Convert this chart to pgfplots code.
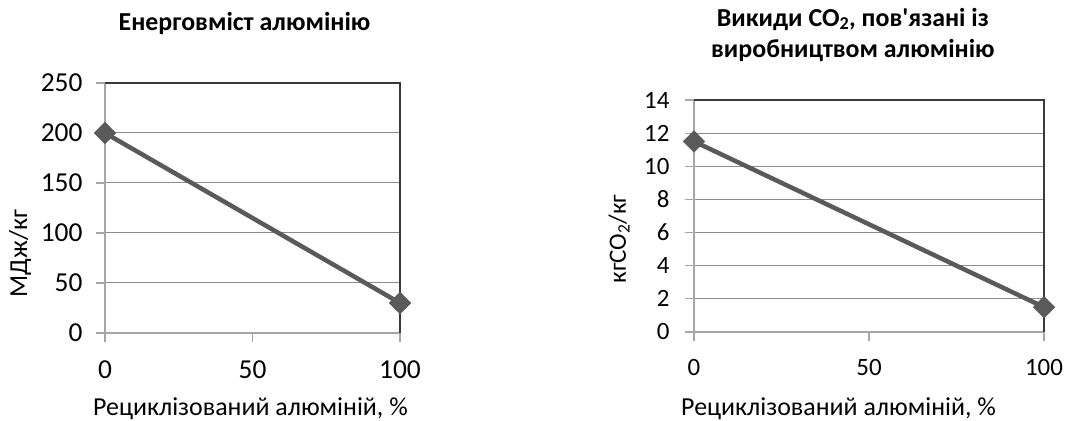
\documentclass[border=0pt]{standalone}
\usepackage{fontspec}
\setmainfont{Carlito}
\usepackage{pgfplots}
\pgfplotsset{compat=1.18}

\definecolor{linegray}{HTML}{5A5A5A}
\definecolor{gridgray}{HTML}{8C8C8C}
\definecolor{axisgray}{HTML}{A6A6A6}
\definecolor{framedark}{HTML}{3A3A3A}

\pgfplotsset{
  excelchart/.style={
    scale only axis,
    anchor=south west,
    clip=false,
    axis lines*=left,
    axis line style={axisgray, line width=1.2bp},
    tick style={axisgray, line width=1.2bp},
    tick align=outside,
    major tick length=9bp,
    ymajorgrids=true,
    grid style={gridgray, line width=1bp},
    xmin=0, xmax=100,
    xtick={0,50,100},
    ymin=0,
    /pgf/number format/assume math mode=true,
  },
  dataline/.style={
    color=linegray, line width=4.5bp,
    mark=square*, mark size=7.6bp,
    mark options={solid, rotate=45, line width=0.5bp, fill=linegray},
  },
}

\begin{document}
\begin{tikzpicture}
\useasboundingbox (0,0) rectangle (1067bp,421bp);

% ---- energy content ----
\begin{axis}[
    excelchart,
    at={(105bp,88bp)},
    width=295bp, height=250bp,
    ymax=250,
    ytick={0,50,100,150,200,250},
    ticklabel style={font=\fontsize{27.5}{31}\selectfont},
    xticklabel style={yshift=-15bp},
    yticklabel style={xshift=-10bp},
    title={Енерговміст алюмінію},
    title style={at={(axis description cs:0.473,1.216)}, anchor=center,
                 font=\bfseries\fontsize{26}{30}\selectfont},
    xlabel={Рециклізований алюміній, \%},
    xlabel style={at={(axis description cs:0.493,-0.328)}, anchor=base,
                  font=\fontsize{26}{30}\selectfont},
    ylabel={МДж/кг},
    ylabel style={at={(axis description cs:-0.288,0.318)}, anchor=center,
                  font=\fontsize{26}{30}\selectfont},
]
\draw[framedark, line width=1.3bp] (rel axis cs:0,1) -- (rel axis cs:1,1) -- (rel axis cs:1,0);
\addplot[dataline] coordinates {(0,200) (100,30)};
\end{axis}

% ---- CO2 emissions ----
\begin{axis}[
    excelchart,
    at={(694bp,89bp)},
    width=350bp, height=232bp,
    ymax=14,
    ytick={0,2,4,6,8,10,12,14},
    ticklabel style={font=\fontsize{25}{29}\selectfont},
    xticklabel style={yshift=-15bp},
    yticklabel style={xshift=-12bp},
    title={Викиди CO\textsubscript{2}, пов\textquotesingle язані із\\виробництвом алюмінію},
    title style={at={(axis description cs:0.454,1.256)}, anchor=center, align=center,
                 font=\bfseries\fontsize{26}{31}\selectfont},
    xlabel={Рециклізований алюміній, \%},
    xlabel style={at={(axis description cs:0.413,-0.358)}, anchor=base,
                  font=\fontsize{26}{30}\selectfont},
    ylabel={кгCO\textsubscript{2}/кг},
    ylabel style={at={(axis description cs:-0.214,0.401)}, anchor=center,
                  font=\fontsize{25}{29}\selectfont},
]
\draw[framedark, line width=1.3bp] (rel axis cs:0,1) -- (rel axis cs:1,1) -- (rel axis cs:1,0);
\addplot[dataline] coordinates {(0,11.5) (100,1.5)};
\end{axis}
\end{tikzpicture}
\end{document}
